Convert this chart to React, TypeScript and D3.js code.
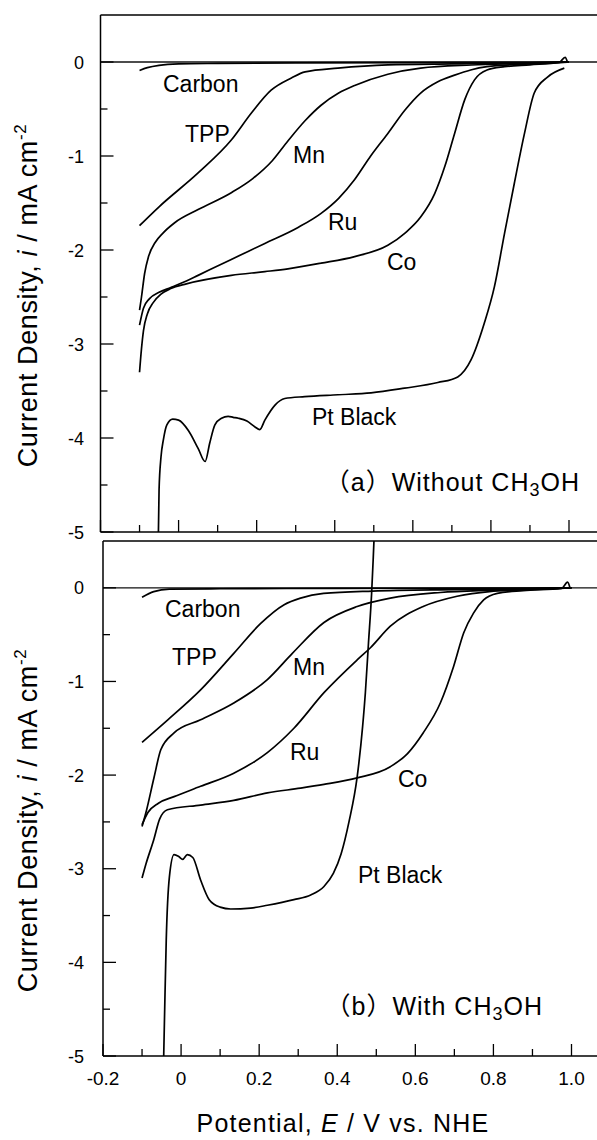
import React from 'react';
import * as d3 from 'd3';

type P = [number, number];

// ---------- Panel (a): without CH3OH ----------
const carbonA: P[] = [[-0.1,-0.09],[-0.08,-0.06],[-0.05,-0.035],[0,-0.02],[0.1,-0.015],[0.3,-0.01],[0.6,-0.006],[0.9,-0.003],[1.0,0]];
const tppA: P[] = [[-0.1,-1.74],[-0.05,-1.54],[0.05,-1.18],[0.135,-0.83],[0.187,-0.54],[0.237,-0.3],[0.289,-0.17],[0.324,-0.105],[0.408,-0.065],[0.536,-0.03],[0.7,-0.02],[0.9,-0.01],[1.0,0]];
const mnA: P[] = [[-0.1,-2.64],[-0.095,-2.5],[-0.087,-2.25],[-0.077,-2.07],[-0.06,-1.92],[-0.04,-1.82],[-0.01,-1.71],[0.05,-1.57],[0.135,-1.39],[0.19,-1.24],[0.24,-1.05],[0.28,-0.84],[0.325,-0.62],[0.365,-0.46],[0.41,-0.33],[0.451,-0.25],[0.536,-0.13],[0.62,-0.065],[0.75,-0.032],[0.9,-0.015],[1.0,0]];
const ruA: P[] = [[-0.1,-2.8],[-0.09,-2.62],[-0.075,-2.52],[-0.05,-2.45],[-0.02,-2.4],[0.02,-2.33],[0.05,-2.27],[0.135,-2.1],[0.221,-1.93],[0.306,-1.76],[0.365,-1.61],[0.41,-1.45],[0.451,-1.25],[0.492,-1.0],[0.536,-0.76],[0.58,-0.51],[0.62,-0.33],[0.664,-0.21],[0.707,-0.14],[0.748,-0.085],[0.79,-0.05],[0.9,-0.02],[1.0,0]];
const coA: P[] = [[-0.1,-3.3],[-0.095,-3.05],[-0.09,-2.86],[-0.08,-2.68],[-0.065,-2.56],[-0.045,-2.47],[-0.02,-2.41],[0.02,-2.36],[0.135,-2.27],[0.221,-2.23],[0.28,-2.2],[0.365,-2.14],[0.451,-2.07],[0.536,-1.95],[0.58,-1.82],[0.62,-1.65],[0.656,-1.4],[0.682,-1.11],[0.707,-0.76],[0.733,-0.4],[0.758,-0.19],[0.79,-0.085],[0.835,-0.05],[0.9,-0.03],[0.975,-0.005],[0.99,0.05],[0.996,0]];
const ptA: P[] = [[-0.052,-5.1],[-0.05,-4.55],[-0.045,-4.2],[-0.039,-4.02],[-0.03,-3.86],[-0.015,-3.8],[0,-3.81],[0.025,-3.92],[0.05,-4.11],[0.068,-4.25],[0.08,-4.05],[0.093,-3.86],[0.11,-3.79],[0.127,-3.77],[0.14,-3.78],[0.153,-3.79],[0.175,-3.82],[0.195,-3.88],[0.208,-3.91],[0.221,-3.81],[0.247,-3.65],[0.272,-3.58],[0.323,-3.56],[0.408,-3.54],[0.493,-3.52],[0.579,-3.47],[0.664,-3.41],[0.715,-3.35],[0.749,-3.17],[0.783,-2.78],[0.809,-2.39],[0.835,-1.82],[0.86,-1.29],[0.886,-0.76],[0.911,-0.33],[0.945,-0.16],[0.988,-0.065]];

// ---------- Panel (b): with CH3OH ----------
const carbonB: P[] = [[-0.1,-0.1],[-0.07,-0.04],[-0.03,-0.015],[0.1,-0.01],[0.4,-0.006],[0.8,-0.003],[1.0,0]];
const tppB: P[] = [[-0.1,-1.65],[-0.034,-1.41],[0.05,-1.09],[0.135,-0.7],[0.204,-0.38],[0.264,-0.18],[0.306,-0.11],[0.365,-0.06],[0.49,-0.035],[0.7,-0.02],[0.9,-0.01],[1.0,0]];
const mnB: P[] = [[-0.1,-2.55],[-0.09,-2.4],[-0.069,-2.02],[-0.052,-1.73],[-0.018,-1.55],[0.05,-1.41],[0.135,-1.23],[0.221,-0.98],[0.285,-0.7],[0.366,-0.37],[0.451,-0.2],[0.536,-0.11],[0.664,-0.05],[0.8,-0.025],[1.0,0]];
const ruB: P[] = [[-0.1,-2.53],[-0.085,-2.4],[-0.058,-2.3],[-0.018,-2.23],[0.05,-2.12],[0.135,-1.98],[0.221,-1.76],[0.289,-1.5],[0.366,-1.12],[0.451,-0.77],[0.485,-0.64],[0.536,-0.41],[0.62,-0.2],[0.707,-0.09],[0.79,-0.04],[0.9,-0.02],[1.0,0]];
const coB: P[] = [[-0.1,-3.1],[-0.09,-2.95],[-0.07,-2.69],[-0.055,-2.47],[-0.035,-2.37],[0.05,-2.32],[0.135,-2.27],[0.221,-2.19],[0.306,-2.14],[0.366,-2.1],[0.451,-2.03],[0.536,-1.91],[0.58,-1.77],[0.62,-1.55],[0.664,-1.23],[0.698,-0.84],[0.724,-0.48],[0.749,-0.27],[0.775,-0.13],[0.81,-0.06],[0.876,-0.03],[0.975,-0.005],[0.99,0.06],[0.996,0]];
const ptB: P[] = [[-0.045,-5.1],[-0.042,-4.5],[-0.038,-3.76],[-0.03,-3.09],[-0.018,-2.85],[-0.006,-2.87],[0.004,-2.9],[0.016,-2.85],[0.03,-2.88],[0.05,-3.12],[0.072,-3.33],[0.1,-3.41],[0.127,-3.43],[0.178,-3.42],[0.221,-3.39],[0.289,-3.33],[0.332,-3.28],[0.366,-3.19],[0.39,-3.05],[0.41,-2.84],[0.43,-2.5],[0.451,-2.02],[0.465,-1.48],[0.472,-1.12],[0.48,-0.59],[0.488,-0.06],[0.492,0.3],[0.495,0.6]];

const yTickValues = [0, -1, -2, -3, -4, -5];
const yTickLabels = ['0', '-1', '-2', '-3', '-4', '-5'];
const yMinorValues = [-0.5, -1.5, -2.5, -3.5, -4.5];
const xTickValues = [-0.2, 0, 0.2, 0.4, 0.6, 0.8, 1.0];
const xTickLabels = ['-0.2', '0', '0.2', '0.4', '0.6', '0.8', '1.0'];
const xMinorValues = [-0.1, 0.1, 0.3, 0.5, 0.7, 0.9];
const curveNames = ['Carbon', 'TPP', 'Mn', 'Ru', 'Co', 'Pt Black'];

const W = 597;
const H = 1140;
const FONT = 'Liberation Sans, Arial, Helvetica, sans-serif';

const panels = [
  {
    id: 'a',
    series: [carbonA, tppA, mnA, ruA, coA, ptA],
    xRange: [100.5, 569] as [number, number],
    yRange: [532, 15] as [number, number],
    labels: [
      { x: 163, y: 92 }, { x: 185, y: 142 }, { x: 293, y: 163 },
      { x: 328, y: 230 }, { x: 387, y: 270 }, { x: 312, y: 425 },
    ],
    title: { pre: '（a）Without CH', x: 580, y: 491 },
    showXLabels: false,
  },
  {
    id: 'b',
    series: [carbonB, tppB, mnB, ruB, coB, ptB],
    xRange: [103, 571.5] as [number, number],
    yRange: [1056, 541] as [number, number],
    labels: [
      { x: 165, y: 617 }, { x: 172, y: 665 }, { x: 293, y: 675 },
      { x: 290, y: 760 }, { x: 398, y: 787 }, { x: 358, y: 883 },
    ],
    title: { pre: '（b）With CH', x: 543, y: 1015 },
    showXLabels: true,
  },
];

function Panel({ p }: { p: typeof panels[number] }) {
  const x = d3.scaleLinear().domain([-0.2, 1.0]).range(p.xRange);
  const y = d3.scaleLinear().domain([-5, 0.5]).range(p.yRange);
  const left = x(-0.2);
  const top = y(0.5);
  const bottom = y(-5);
  const line = d3
    .line<P>()
    .x((d) => x(d[0]))
    .y((d) => y(d[1]))
    .curve(d3.curveMonotoneX);
  const clipId = `clip-${p.id}`;
  return (
    <g>
      <defs>
        <clipPath id={clipId}>
          <rect x={left} y={top} width={W - left} height={bottom - top} />
        </clipPath>
      </defs>
      <line x1={left} x2={W} y1={y(0)} y2={y(0)} stroke="#111" strokeWidth={1.3} />
      <g clipPath={`url(#${clipId})`}>
        {p.series.map((s, i) => (
          <path key={i} d={line(s) || ''} fill="none" stroke="#000" strokeWidth={1.7} strokeLinejoin="round" />
        ))}
      </g>
      <line x1={left} x2={W} y1={top} y2={top} stroke="#000" strokeWidth={1.5} />
      <line x1={left} x2={left} y1={top} y2={bottom} stroke="#000" strokeWidth={1.5} />
      <line x1={left} x2={W} y1={bottom} y2={bottom} stroke="#000" strokeWidth={1.5} />
      {yTickValues.map((v, i) => (
        <g key={'yt' + i}>
          <line x1={left} x2={left + 13} y1={y(v)} y2={y(v)} stroke="#000" strokeWidth={1.3} />
          <text x={84} y={y(v) + 6.5} textAnchor="end" fontSize={18} fontFamily={FONT}>
            {yTickLabels[i]}
          </text>
        </g>
      ))}
      {yMinorValues.map((v, i) => (
        <line key={'ym' + i} x1={left} x2={left + 7} y1={y(v)} y2={y(v)} stroke="#000" strokeWidth={1.3} />
      ))}
      {xTickValues.map((v, i) => (
        <g key={'xt' + i}>
          <line x1={x(v)} x2={x(v)} y1={bottom} y2={bottom - 12} stroke="#000" strokeWidth={1.3} />
          {p.showXLabels && (
            <text x={x(v)} y={bottom + 29} textAnchor="middle" fontSize={19} fontFamily={FONT}>
              {xTickLabels[i]}
            </text>
          )}
        </g>
      ))}
      {xMinorValues.map((v, i) => (
        <line key={'xm' + i} x1={x(v)} x2={x(v)} y1={bottom} y2={bottom - 7} stroke="#000" strokeWidth={1.3} />
      ))}
      {p.labels.map((l, i) => (
        <text key={'cl' + i} x={l.x} y={l.y} fontSize={23} fontFamily={FONT}>
          {curveNames[i]}
        </text>
      ))}
      <text x={p.title.x} y={p.title.y} textAnchor="end" fontSize={25} letterSpacing={1}
        fontFamily={FONT + ', Noto Sans CJK JP'}>
        {p.title.pre}
        <tspan dy={5} fontSize={18}>3</tspan>
        <tspan dy={-5}>OH</tspan>
      </text>
      <text
        transform={`translate(37, ${(top + bottom) / 2 + 22}) rotate(-90)`}
        textAnchor="middle"
        fontSize={27}
        fontFamily={FONT}
        letterSpacing={0.6}
      >
        Current Density, <tspan fontStyle="italic">i</tspan> / mA cm
        <tspan dy={-11} fontSize={17}>-2</tspan>
      </text>
    </g>
  );
}

export default function App() {
  return (
    <svg
      width={W}
      height={H}
      viewBox={`0 0 ${W} ${H}`}
      style={{ position: 'absolute', left: 0, top: 0, background: '#fff' }}
    >
      <rect x={0} y={0} width={W} height={H} fill="#fff" />
      {panels.map((p) => (
        <Panel key={p.id} p={p} />
      ))}
      <text x={343} y={1132} textAnchor="middle" fontSize={25} fontFamily={FONT} letterSpacing={1.2}>
        Potential, <tspan fontStyle="italic">E</tspan> / V vs. NHE
      </text>
    </svg>
  );
}
